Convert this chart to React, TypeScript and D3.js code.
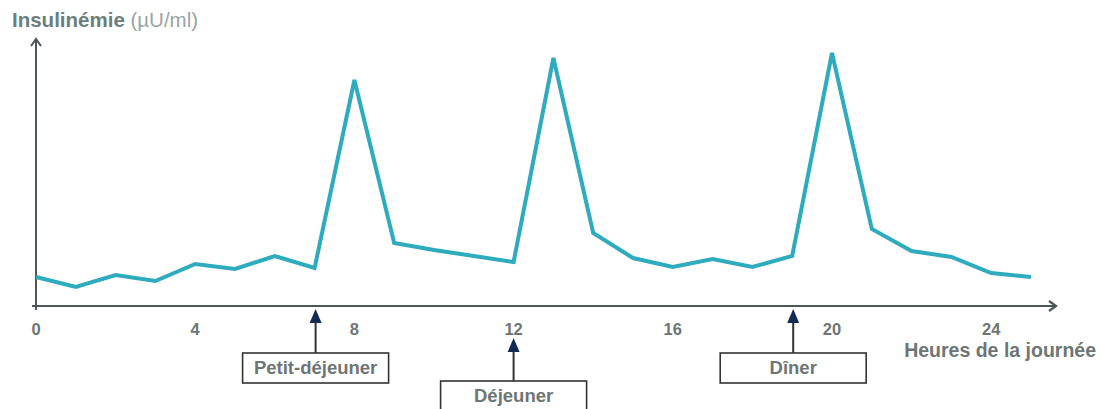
import React from "react";
import * as d3 from "d3";

const hours = [0,1,2,3,4,5,6,7,8,9,10,11,12,13,14,15,16,17,18,19,20,21,22,23,24,25];
const insulin = [29,19,31,25,42,37,50,38,226,63,56,50,44,248,73,48,39,47,39,50,253,77,55,49,33,29];
const xTicks = [0,4,8,12,16,20,24];
const meals = [
  { label: "Petit-déjeuner", hour: 7, boxTop: 353 },
  { label: "Déjeuner", hour: 12, boxTop: 381 },
  { label: "Dîner", hour: 19, boxTop: 353 },
];

const W = 1102, H = 409;
const x = d3.scaleLinear().domain([0, 25]).range([36, 1031]);
const y = d3.scaleLinear().domain([0, 266]).range([306, 40]);

const axisColor = "#4d5656";
const textColor = "#6d7575";
const lineColor = "#2eabbd";
const navy = "#132a52";
const font = "'Liberation Sans', Arial, sans-serif";

export default function App() {
  const line = d3.line<number>().x((_, i) => x(hours[i])).y((d) => y(d));
  const x0 = x(0), yAxis = y(0);
  return (
    <svg width={W} height={H} style={{ position: "absolute", left: 0, top: 0, background: "#fff" }}>
      {/* title */}
      <text x={12} y={27} fontFamily={font} fontSize={20.5} fill="#6a7f7c">
        <tspan fontWeight="bold">Insulinémie</tspan>
        <tspan fill="#9aa4a4"> (µU/ml)</tspan>
      </text>
      {/* y axis */}
      <line x1={x0} y1={yAxis + 4} x2={x0} y2={39} stroke={axisColor} strokeWidth={2} />
      <polyline points={`${x0 - 5},${46} ${x0},${39} ${x0 + 5},${46}`} fill="none" stroke={axisColor} strokeWidth={2} />
      {/* x axis */}
      <line x1={x0 - 4} y1={yAxis} x2={1056} y2={yAxis} stroke={axisColor} strokeWidth={2} />
      <polyline points={`${1049},${yAxis - 5} ${1056},${yAxis} ${1049},${yAxis + 5}`} fill="none" stroke={axisColor} strokeWidth={2.2} />
      {xTicks.map((t) => (
        <text key={t} x={x(t)} y={335} textAnchor="middle" fontFamily={font} fontSize={16.5} fontWeight="bold" fill={textColor}>
          {t}
        </text>
      ))}
      <text x={1096} y={357} textAnchor="end" fontFamily={font} fontSize={19.5} fontWeight="bold" fill={textColor}>
        Heures de la journée
      </text>
      {/* data line */}
      <path d={line(insulin) || ""} fill="none" stroke={lineColor} strokeWidth={4} strokeLinejoin="miter" />
      {/* meals */}
      {meals.map((m) => {
        const cx = x(m.hour) + (m.hour === 7 ? 1 : m.hour === 19 ? 1 : 0);
        const tip = m.hour === 12 ? 338 : 309;
        return (
          <g key={m.label}>
            <line x1={cx} y1={tip + 10} x2={cx} y2={m.boxTop} stroke="#333" strokeWidth={2} />
            <polygon points={`${cx},${tip} ${cx - 6},${tip + 14} ${cx + 6},${tip + 14}`} fill={navy} />
            <rect x={cx - 73} y={m.boxTop} width={146} height={30} fill="#fff" stroke="#333" strokeWidth={1.6} />
            <text x={cx} y={m.boxTop + 21} textAnchor="middle" fontFamily={font} fontSize={18.5} fontWeight="bold" fill={textColor}>
              {m.label}
            </text>
          </g>
        );
      })}
    </svg>
  );
}
